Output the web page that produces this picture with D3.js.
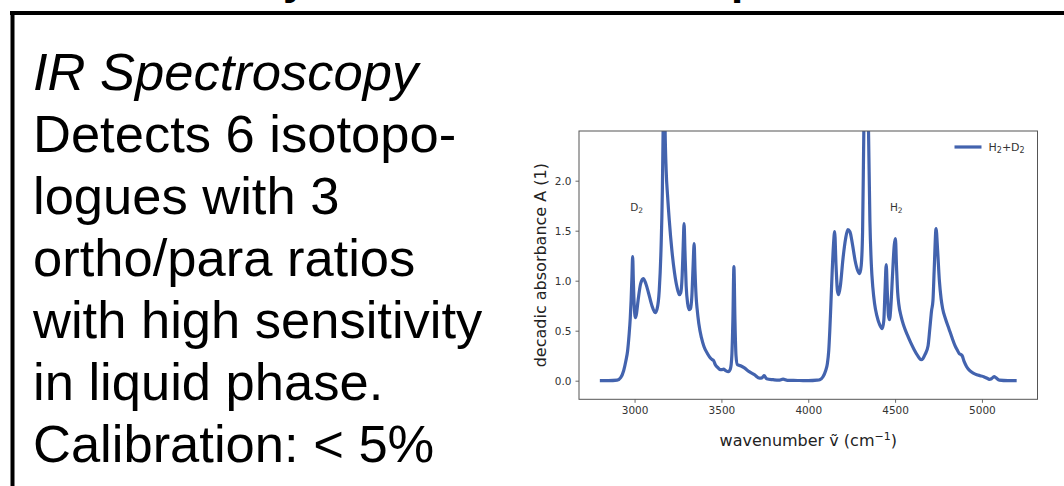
<!DOCTYPE html>
<html>
<head>
<meta charset="utf-8">
<script src="https://cdn.jsdelivr.net/npm/d3@7"></script>
<style>
  html, body { margin: 0; padding: 0; background: #fff; }
  svg { display: block; }
</style>
</head>
<body>
<svg id="slide" width="1064" height="486"></svg>
<script>
// slide text, left column
const slideLines = [
    "IR Spectroscopy",
    "Detects 6 isotopo-",
    "logues with 3",
    "ortho/para ratios",
    "with high sensitivity",
    "in liquid phase.",
    "Calibration: < 5%"
];

// spectrum of H2+D2 mixture
const wavenumber = [
    2800, 2850, 2900, 2920, 2937, 2950, 2960, 2968, 2975, 2980, 2985, 2989, 2993, 2998,
    3005, 3010, 3020, 3035, 3050, 3065, 3080, 3100, 3119, 3130, 3142, 3152, 3160, 3165,
    3170, 3175, 3182, 3190, 3200, 3215, 3230, 3245, 3258, 3266, 3274, 3280, 3285, 3290,
    3297, 3305, 3315, 3322, 3330, 3337, 3343, 3348, 3354, 3360, 3370, 3385, 3400, 3420,
    3440, 3448, 3455, 3465, 3480, 3495, 3505, 3512, 3525, 3540, 3552, 3560, 3566, 3572,
    3578, 3584, 3592, 3610, 3630, 3660, 3690, 3720, 3735, 3746, 3760, 3798, 3830, 3855,
    3880, 3950, 4000, 4050, 4066, 4085, 4100, 4110, 4118, 4124, 4130, 4138, 4145, 4152,
    4160, 4168, 4175, 4185, 4200, 4215, 4228, 4240, 4255, 4270, 4285, 4296, 4305, 4313,
    4320, 4333, 4347, 4355, 4363, 4372, 4382, 4395, 4411, 4426, 4435, 4442, 4449, 4455,
    4462, 4468, 4476, 4485, 4495, 4502, 4508, 4515, 4521, 4535, 4550, 4570, 4590, 4610,
    4630, 4650, 4660, 4672, 4690, 4700, 4710, 4718, 4725, 4736, 4745, 4755, 4765, 4774,
    4790, 4810, 4830, 4845, 4860, 4870, 4880, 4886, 4898, 4912, 4930, 4950, 4970, 4990,
    5010, 5030, 5042, 5055, 5070, 5080, 5100, 5150, 5200
];
const absorbance = [
    0.0, 0.0, 0.005, 0.03, 0.1, 0.2, 0.3, 0.45, 0.62, 0.8, 1.05, 1.24, 1.0, 0.75,
    0.63, 0.66, 0.8, 0.97, 1.02, 0.97, 0.88, 0.75, 0.68, 0.72, 0.9, 1.3, 1.9, 2.6,
    3.5, 2.6, 2.1, 1.85, 1.6, 1.3, 1.08, 0.93, 0.86, 0.88, 1.05, 1.35, 1.57, 1.3,
    0.95, 0.78, 0.71, 0.72, 0.85, 1.15, 1.37, 1.1, 0.85, 0.72, 0.57, 0.43, 0.34, 0.27,
    0.22, 0.21, 0.2, 0.16, 0.13, 0.11, 0.11, 0.115, 0.1, 0.09, 0.12, 0.25, 0.6, 1.14,
    0.6, 0.25, 0.16, 0.15, 0.13, 0.09, 0.06, 0.025, 0.03, 0.05, 0.02, 0.01, 0.005, 0.015,
    0.003, 0.002, 0.0, 0.005, 0.01, 0.04, 0.1, 0.17, 0.3, 0.5, 0.75, 1.1, 1.35, 1.49,
    1.15, 0.9, 0.86, 0.95, 1.22, 1.42, 1.51, 1.49, 1.36, 1.2, 1.1, 1.07, 1.15, 1.5,
    2.5, 3.5, 2.5, 1.6, 1.17, 0.93, 0.77, 0.65, 0.56, 0.52, 0.6, 0.9, 1.16, 0.9,
    0.65, 0.61, 0.75, 1.05, 1.35, 1.42, 1.15, 0.88, 0.77, 0.64, 0.55, 0.46, 0.38, 0.31,
    0.25, 0.21, 0.22, 0.26, 0.35, 0.52, 0.7, 0.8, 1.1, 1.52, 1.3, 1.0, 0.82, 0.72,
    0.62, 0.52, 0.42, 0.35, 0.3, 0.27, 0.26, 0.25, 0.19, 0.14, 0.1, 0.075, 0.06, 0.05,
    0.04, 0.025, 0.014, 0.02, 0.04, 0.03, 0.005, 0.0, 0.0
];

const xTicks = [3000, 3500, 4000, 4500, 5000];
const yTicks = [0.0, 0.5, 1.0, 1.5, 2.0];
const peakLabels = [
    {x: 2975, y: 1.7, base: "D", sub: "2"},
    {x: 4470, y: 1.7, base: "H", sub: "2"}
];

const svg = d3.select("#slide");

// slide frame
svg.append("line")
    .attr("x1", 10).attr("y1", 13).attr("x2", 1064).attr("y2", 13)
    .attr("stroke", "#000").attr("stroke-width", 4);
svg.append("line")
    .attr("x1", 12.5).attr("y1", 11).attr("x2", 12.5).attr("y2", 486)
    .attr("stroke", "#000").attr("stroke-width", 4);

// descenders of the slide title that sits just above the crop
svg.append("text")
    .attr("x", 283).attr("y", -6)
    .attr("font-family", "Liberation Sans, Arial, sans-serif")
    .attr("font-size", 44).attr("font-weight", "bold")
    .text("y");
svg.append("text")
    .attr("x", 731).attr("y", -6)
    .attr("font-family", "Liberation Sans, Arial, sans-serif")
    .attr("font-size", 44).attr("font-weight", "bold")
    .text("p");

// left text block
svg.append("g")
    .selectAll("text")
    .data(slideLines)
  .join("text")
    .attr("x", 33)
    .attr("y", (d, i) => 90 + i * 62)
    .attr("font-family", "Liberation Sans, Arial, sans-serif")
    .attr("font-size", 52.5)
    .attr("font-style", (d, i) => i === 0 ? "italic" : "normal")
    .attr("fill", "#000")
    .text(d => d);

// chart
const margin = {left: 579, top: 131},
      width = 1037.5 - 579,
      height = 399.3 - 131;

const g = svg.append("g")
    .attr("transform", `translate(${margin.left},${margin.top})`);

const x = d3.scaleLinear()
    .domain([2680, 5320])
    .range([0, width]);

const y = d3.scaleLinear()
    .domain([-0.186, 2.497])
    .range([height, 0]);

svg.append("defs").append("clipPath")
    .attr("id", "plot-clip")
  .append("rect")
    .attr("width", width)
    .attr("height", height);

const line = d3.line()
    .x(i => x(wavenumber[i]))
    .y(i => y(absorbance[i]))
    .curve(d3.curveMonotoneX);

g.append("path")
    .datum(d3.range(wavenumber.length))
    .attr("clip-path", "url(#plot-clip)")
    .attr("fill", "none")
    .attr("stroke", "#4363ae")
    .attr("stroke-width", 3.2)
    .attr("stroke-linejoin", "round")
    .attr("d", line);

const tickFont = "DejaVu Sans, sans-serif";

// X Axis
const xAxis = g.append("g")
    .attr("transform", `translate(0,${height})`)
    .call(d3.axisBottom(x).tickValues(xTicks).tickFormat(d3.format("d")).tickSize(3.5).tickPadding(4));

// Y Axis
const yAxis = g.append("g")
    .call(d3.axisLeft(y).tickValues(yTicks).tickFormat(d3.format(".1f")).tickSize(3.5).tickPadding(4));

[xAxis, yAxis].forEach(a => {
    a.select(".domain").remove();
    a.selectAll(".tick line").attr("stroke", "#444").attr("stroke-width", 0.8);
    a.selectAll(".tick text")
        .attr("fill", "#333")
        .attr("font-family", tickFont)
        .attr("font-size", 10.5);
});

// frame
g.append("rect")
    .attr("width", width)
    .attr("height", height)
    .attr("fill", "none")
    .attr("stroke", "#555")
    .attr("stroke-width", 1);

// axis labels
svg.append("text")
    .attr("transform", `translate(546,${margin.top + height / 2}) rotate(-90)`)
    .attr("text-anchor", "middle")
    .attr("font-family", tickFont)
    .attr("font-size", 16)
    .attr("fill", "#222")
    .text("decadic absorbance A (1)");

const xl = svg.append("text")
    .attr("x", margin.left + width / 2)
    .attr("y", 446)
    .attr("text-anchor", "middle")
    .attr("font-family", tickFont)
    .attr("font-size", 16)
    .attr("fill", "#222");
xl.append("tspan").text("wavenumber \u1E7D (cm");
xl.append("tspan").attr("font-size", 11).attr("dy", -6).text("\u22121");
xl.append("tspan").attr("dy", 6).text(")");

// peak labels
peakLabels.forEach(p => {
    const t = g.append("text")
        .attr("x", x(p.x))
        .attr("y", y(p.y))
        .attr("font-family", tickFont)
        .attr("font-size", 10.5)
        .attr("fill", "#333");
    t.append("tspan").text(p.base);
    t.append("tspan").attr("font-size", 7.5).attr("dy", 2).text(p.sub);
});

// legend
const legend = g.append("g")
    .attr("transform", `translate(${width - 83},16)`);
legend.append("line")
    .attr("x1", 0).attr("x2", 27)
    .attr("stroke", "#4363ae")
    .attr("stroke-width", 3.2);
const lt = legend.append("text")
    .attr("x", 34).attr("y", 4)
    .attr("font-family", tickFont)
    .attr("font-size", 11)
    .attr("fill", "#333");
lt.append("tspan").text("H");
lt.append("tspan").attr("font-size", 8).attr("dy", 2).text("2");
lt.append("tspan").attr("dy", -2).text("+D");
lt.append("tspan").attr("font-size", 8).attr("dy", 2).text("2");
</script>
</body>
</html>
